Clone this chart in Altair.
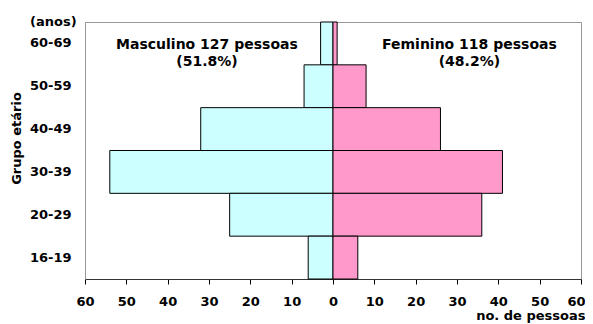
import altair as alt
import pandas as pd

groups = ["60-69", "50-59", "40-49", "30-39", "20-29", "16-19"]
male = [3, 7, 32, 54, 25, 6]
female = [1, 8, 26, 41, 36, 6]

ann_x = [-30.5, 33]
ann_line1 = ["Masculino 127 pessoas", "Feminino 118 pessoas"]
ann_line2 = ["(51.8%)", "(48.2%)"]

rows = []
for g, m, f in zip(groups, male, female):
    rows.append({"grupo": g, "sexo": "Masculino", "valor": -m})
    rows.append({"grupo": g, "sexo": "Feminino", "valor": f})
df = pd.DataFrame(rows)

ann = pd.DataFrame({"x": ann_x, "l1": ann_line1, "l2": ann_line2, "grupo": [groups[0]] * 2})

FONT = "DejaVu Sans"

yscale = alt.Scale(domain=groups, paddingInner=0, paddingOuter=0)
xscale = alt.Scale(domain=[-60, 60], nice=False)

bars = alt.Chart(df).mark_bar(stroke="black", strokeWidth=1).encode(
    y=alt.Y("grupo:N", scale=yscale, sort=groups,
            axis=alt.Axis(title="Grupo etário", ticks=False, labelPadding=14,
                          labelFontSize=13, labelFontWeight="bold", labelFont=FONT,
                          labelColor="black", domainColor="#999999",
                          titleFontSize=13, titleFontWeight="bold", titleFont=FONT,
                          titleColor="black", titlePadding=6, titleY=116)),
    x=alt.X("valor:Q", scale=xscale,
            axis=alt.Axis(values=list(range(-60, 61, 10)), labelExpr="abs(datum.value)",
                          grid=False, tickSize=5, tickColor="black", domainColor="#333333",
                          labelFontSize=13, labelFontWeight="bold", labelFont=FONT,
                          labelColor="black", labelPadding=11, labelFlush=False,
                          labelOverlap=False,
                          labelOffset={"condition": {"test": "datum.value == 60", "value": -5},
                                       "value": 0},
                          title="no. de pessoas", titleAnchor="end", titleAlign="right",
                          titleX=500, titleFontSize=13,
                          titleFontWeight="bold", titleFont=FONT, titleColor="black",
                          titlePadding=1)),
    x2=alt.datum(0),
    color=alt.Color("sexo:N", scale=alt.Scale(domain=["Masculino", "Feminino"],
                                              range=["#CCFFFF", "#FF99CC"]), legend=None),
)

t1 = alt.Chart(ann).mark_text(fontSize=14, fontWeight="bold", font=FONT, color="black",
                              dy=2).encode(
    x=alt.X("x:Q", scale=xscale), y=alt.Y("grupo:N", scale=yscale, sort=groups), text="l1:N")
t2 = alt.Chart(ann).mark_text(fontSize=14, fontWeight="bold", font=FONT, color="black",
                              dy=19).encode(
    x=alt.X("x:Q", scale=xscale), y=alt.Y("grupo:N", scale=yscale, sort=groups), text="l2:N")

chart = alt.layer(bars, t1, t2).properties(
    width=496, height=257,
    autosize=alt.AutoSizeParams(type="none"),
    padding={"left": 77, "top": 14, "right": 4, "bottom": 45},
    title=alt.TitleParams("(anos)", anchor="start", frame="group", dx=-55, offset=-7,
                          fontSize=13, fontWeight="bold", font=FONT, color="black"),
).configure_view(stroke="#999999", strokeWidth=1)

chart.save("out.html", embed_options={"renderer": "svg", "actions": False})
